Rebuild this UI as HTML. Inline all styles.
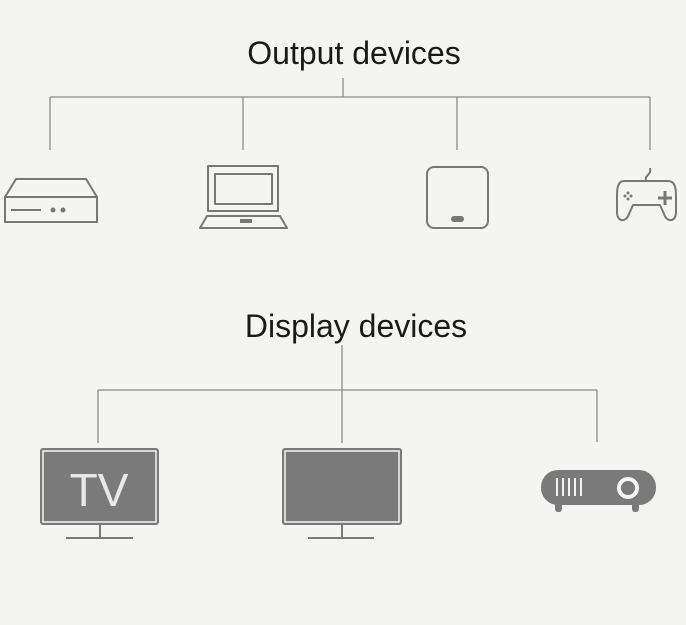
<!DOCTYPE html>
<html><head><style>
html,body{margin:0;padding:0;background:#f4f4f3;}
svg{display:block;}
</style></head><body>
<svg width="686" height="625" viewBox="0 0 686 625" xmlns="http://www.w3.org/2000/svg">
<rect width="686" height="625" fill="#f4f4f3"/>
<g font-family="Liberation Sans, sans-serif" fill="#1a1a1a" font-size="32" text-anchor="middle">
<text x="354" y="64">Output devices</text>
<text x="356" y="337">Display devices</text>
</g>
<g stroke="#8a8a8a" stroke-width="1.3" fill="none">
<path d="M343 78V97M50 97H650M50 97V150M243 97V150M457 97V150M650 97V150"/>
<path d="M342 345V443M98 390H597M98 390V443M597 390V442"/>
</g>
<g stroke="#777" stroke-width="2" fill="none" stroke-linejoin="round">
<path d="M5 197L16 179H86L97 197Z"/>
<rect x="5" y="197" width="92" height="25"/>
<path d="M11 210H41" />
<rect x="208" y="166" width="70" height="45"/>
<rect x="215" y="174" width="57" height="30"/>
<path d="M207 216H280L287 228H200Z"/>
<rect x="427" y="167" width="61" height="61" rx="7"/>
<path d="M646 181C644 175 652 175 650 168"/>
<path d="M624 181H668C675 181 676 188 676 196V212C676 222 667 223 664 214L660 205H633L629 214C626 223 617 222 617 212V196C617 188 618 181 624 181Z"/>
<path d="M665 191V205M658 198H672" stroke-width="3"/>
</g>
<g fill="#777">
<circle cx="53" cy="210" r="2.5"/><circle cx="63" cy="210" r="2.5"/>
<rect x="240" y="219" width="12" height="4"/>
<rect x="451" y="216" width="13" height="6" rx="3"/>
<circle cx="628" cy="193" r="1.5"/><circle cx="628" cy="199" r="1.5"/><circle cx="625" cy="196" r="1.5"/><circle cx="631" cy="196" r="1.5"/>
</g>
<rect x="40" y="448" width="119" height="77" rx="3" fill="#7a7a7a"/>
<rect x="43" y="451" width="113" height="71" fill="none" stroke="#f4f4f3" stroke-width="1.5"/>
<text x="99" y="506" font-family="Liberation Sans, sans-serif" font-size="46" fill="#e8e8e8" text-anchor="middle">TV</text>
<path d="M100 525V538M66 538H133" stroke="#7a7a7a" stroke-width="2"/>
<rect x="282" y="448" width="120" height="77" rx="3" fill="#7a7a7a"/>
<rect x="285" y="451" width="114" height="71" fill="none" stroke="#f4f4f3" stroke-width="1.5"/>
<path d="M342 525V538M308 538H374" stroke="#7a7a7a" stroke-width="2"/>
<rect x="541" y="470" width="115" height="35" rx="17" fill="#7a7a7a"/>
<rect x="555" y="502" width="7" height="10" rx="3" fill="#7a7a7a"/>
<rect x="632" y="502" width="7" height="10" rx="3" fill="#7a7a7a"/>
<g stroke="#f4f4f3" stroke-width="2"><path d="M557 478V496M563 478V496M569 478V496M575 478V496M581 478V496"/></g>
<circle cx="628" cy="488" r="9" fill="none" stroke="#f4f4f3" stroke-width="4"/>
</svg>
</body></html>
